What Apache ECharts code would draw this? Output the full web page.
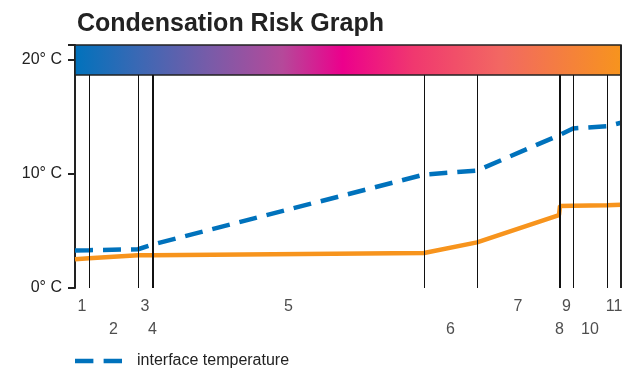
<!DOCTYPE html>
<html>
<head>
<meta charset="utf-8">
<script src="https://cdn.jsdelivr.net/npm/echarts@6/dist/echarts.min.js"></script>
<style>
  html, body { margin: 0; padding: 0; background: #fff; }
  #chart { width: 629px; height: 371px; }
</style>
</head>
<body>
<div id="chart"></div>
<script>
// layer build-up (thickness of each layer, arbitrary units)
var layerNames = ['1', '2', '3', '4', '5', '6', '7', '8', '9', '10', '11'];
var layerThickness = [14, 49, 14, 1, 271, 53, 82, 1, 13, 34, 14];
// temperatures at each interface (12 boundaries)
var interfaceTemp = [3.3, 3.32, 3.4, 3.8, 3.85, 9.95, 10.3, 13.4, 13.5, 14.0, 14.2, 14.5];
var dewPointTemp = [2.52, 2.6, 2.87, 2.88, 2.88, 3.07, 4.0, 6.4, 7.2, 7.22, 7.25, 7.3];
var yTicks = [0, 10, 20];

var boundaries = [0];
layerThickness.forEach(function (t, i) { boundaries.push(boundaries[i] + t); });
var total = boundaries[boundaries.length - 1];

var yMax = 21.32;   // top of the colour strip
var stripBottom = 18.69;

var blueData = boundaries.map(function (b, i) { return [b, interfaceTemp[i]]; });
var orangeData = boundaries.map(function (b, i) { return [b, dewPointTemp[i]]; });

var labelData = layerNames.map(function (n, i) {
  var c = (boundaries[i] + boundaries[i + 1]) / 2;
  return { name: n, value: [c, i % 2 === 0 ? -1.62 : -3.68] };
});

var boundaryLines = boundaries.slice(1, -1).map(function (b) {
  return [{ coord: [b, 0] }, { coord: [b, stripBottom] }];
});
boundaryLines.push([
  { coord: [total, 0], lineStyle: { width: 2, color: '#222' } },
  { coord: [total, yMax] }
]);

var myChar = echarts.init(document.getElementById('chart'));
var option = {
  animation: false,
  textStyle: { fontFamily: 'Liberation Sans, Arial, sans-serif' },
  title: {
    text: 'Condensation Risk Graph',
    left: 72,
    top: 7,
    textStyle: { fontSize: 25, fontWeight: 'bold', color: '#222', fontFamily: 'Liberation Sans, Arial, sans-serif' }
  },
  legend: {
    data: [{ name: 'interface temperature', icon: 'path://M0,0H18V4.5H0Z M28,0H46V4.5H28Z' }],
    left: 70,
    top: 348,
    itemWidth: 47,
    itemHeight: 5,
    textStyle: { fontSize: 16, color: '#222', padding: [0, 0, 0, 10] }
  },
  grid: { left: 75, right: 8, top: 45, bottom: 83 },
  xAxis: {
    type: 'value',
    min: 0,
    max: total,
    show: false
  },
  yAxis: {
    type: 'value',
    min: 0,
    max: yMax,
    interval: 10,
    axisLine: { show: true, lineStyle: { color: '#222', width: 2 } },
    axisTick: { show: true, length: 7, lineStyle: { color: '#222', width: 2 } },
    axisLabel: {
      margin: 13,
      fontSize: 16,
      color: '#222',
      formatter: function (v) { return yTicks.indexOf(v) >= 0 ? v + '° C' : ''; }
    },
    splitLine: { show: false }
  },
  series: [
    {
      name: 'boundaries',
      type: 'line',
      data: [],
      silent: true,
      markLine: {
        silent: true,
        symbol: 'none',
        label: { show: false },
        lineStyle: { color: '#111', width: 1, type: 'solid' },
        data: boundaryLines
      }
    },
    {
      name: 'dew point',
      type: 'line',
      data: orangeData,
      showSymbol: false,
      symbol: 'none',
      lineStyle: { color: '#f7941d', width: 4.5 },
      itemStyle: { color: '#f7941d' },
      z: 3
    },
    {
      name: 'interface temperature',
      type: 'line',
      data: blueData,
      showSymbol: false,
      symbol: 'none',
      lineStyle: { color: '#0072bc', width: 4.5, type: [18, 10] },
      itemStyle: { color: '#0072bc' },
      z: 4
    },
    {
      name: 'strip',
      type: 'line',
      data: [],
      silent: true,
      z: 5,
      markArea: {
        silent: true,
        itemStyle: {
          borderColor: '#222',
          borderWidth: 1.5,
          color: new echarts.graphic.LinearGradient(0, 0, 1, 0, [
            { offset: 0, color: '#0072bc' },
            { offset: 0.12, color: '#3c68b4' },
            { offset: 0.25, color: '#7a5ba8' },
            { offset: 0.38, color: '#b5499a' },
            { offset: 0.49, color: '#ec008c' },
            { offset: 0.62, color: '#f0386f' },
            { offset: 0.78, color: '#f26862' },
            { offset: 1, color: '#f7941d' }
          ])
        },
        data: [[{ xAxis: 0, yAxis: stripBottom }, { xAxis: total, yAxis: yMax }]]
      }
    },
    {
      name: 'layers',
      type: 'scatter',
      data: labelData,
      symbolSize: 0,
      clip: false,
      silent: true,
      label: {
        show: true,
        position: 'inside',
        formatter: '{b}',
        fontSize: 16,
        color: '#222'
      }
    }
  ]
};
myChar.setOption(option);
</script>
</body>
</html>
